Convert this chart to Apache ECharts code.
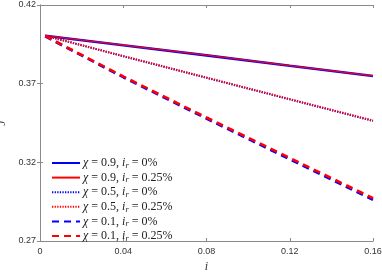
<!DOCTYPE html>
<html>
<head>
<meta charset="utf-8">
<script src="https://cdn.jsdelivr.net/npm/echarts@6/dist/echarts.min.js"></script>
<style>html,body{margin:0;padding:0;background:#fff;}#c{width:382px;height:273px;}</style>
</head>
<body>
<div id="c"></div>
<script>
const iVals = [0.0025, 0.04, 0.08, 0.12, 0.16];
const chi09_r0 = [0.4005, 0.3944, 0.3880, 0.3814, 0.3749];
const chi09_r25 = [0.4005, 0.3945, 0.3881, 0.3815, 0.3750];
const chi05_r0 = [0.4005, 0.3874, 0.3737, 0.3600, 0.3463];
const chi05_r25 = [0.4005, 0.3876, 0.3739, 0.3602, 0.3466];
const chi01_r0 = [0.4000, 0.3741, 0.3478, 0.3220, 0.2962];
const chi01_r25 = [0.4003, 0.3746, 0.3485, 0.3228, 0.2972];
const xTicks = [0, 0.04, 0.08, 0.12, 0.16];
const yTicks = [0.27, 0.32, 0.37, 0.42];
const legendChi = ['0.9', '0.9', '0.5', '0.5', '0.1', '0.1'];
const legendIr = ['0%', '0.25%', '0%', '0.25%', '0%', '0.25%'];

const BLUE = '#0000ff', RED = '#ff0000';
const styles = [
  {color: BLUE, width: 2.6, type: 'solid'},
  {color: RED, width: 1.2, type: 'solid'},
  {color: BLUE, width: 2, type: [1.3, 1.3]},
  {color: RED, width: 2, type: [1.3, 1.3]},
  {color: BLUE, width: 2.6, type: [7, 5]},
  {color: RED, width: 2.6, type: [7, 5]}
];
const allData = [chi09_r0, chi09_r25, chi05_r0, chi05_r25, chi01_r0, chi01_r25];
const names = legendChi.map((c, k) => 'χ = ' + c + ', i_r = ' + legendIr[k]);

const series = allData.map((arr, k) => ({
  name: names[k],
  type: 'line',
  xAxisIndex: 0, yAxisIndex: 0,
  symbol: 'none',
  showSymbol: false,
  animation: false,
  data: iVals.map((x, j) => [x, arr[j]]),
  lineStyle: {color: styles[k].color, width: styles[k].width, type: styles[k].type},
  itemStyle: {color: styles[k].color}
}));

const axisCol = '#8a8a8a';
const labelStyle = {color: '#333', fontSize: 9, fontFamily: 'Liberation Sans'};
const txt = '#222';
const chart = echarts.init(document.getElementById('c'), null, {renderer: 'canvas'});
chart.setOption({
  animation: false,
  grid: {left: 40, top: 5, right: 9, bottom: 32, containLabel: false, outerBoundsMode: 'none'},
  xAxis: [
    {type: 'value', min: xTicks[0], max: xTicks[xTicks.length - 1], interval: 0.04,
     axisLine: {show: true, lineStyle: {color: axisCol}},
     axisTick: {show: true, inside: true, length: 3, lineStyle: {color: axisCol}},
     axisLabel: {...labelStyle, margin: 6, formatter: v => String(+v.toFixed(2))},
     splitLine: {show: false},
     name: 'i', nameLocation: 'middle', nameGap: 16,
     nameTextStyle: {fontFamily: 'Liberation Serif', fontStyle: 'italic', fontSize: 12, color: '#333'}},
    {type: 'value', position: 'top', min: xTicks[0], max: xTicks[xTicks.length - 1], interval: 0.04,
     axisLine: {show: true, lineStyle: {color: axisCol}},
     axisTick: {show: true, inside: true, length: 3, lineStyle: {color: axisCol}},
     axisLabel: {show: false}, splitLine: {show: false}}
  ],
  yAxis: [
    {type: 'value', min: yTicks[0], max: yTicks[yTicks.length - 1], interval: 0.05,
     axisLine: {show: true, lineStyle: {color: axisCol}},
     axisTick: {show: true, inside: true, length: 3, lineStyle: {color: axisCol}},
     axisLabel: {...labelStyle, margin: 4, formatter: v => (+v).toFixed(2)},
     splitLine: {show: false},
     name: 'J', nameLocation: 'middle', nameGap: 31, nameRotate: 90,
     nameTextStyle: {fontFamily: 'Liberation Serif', fontStyle: 'italic', fontSize: 12, color: '#333'}},
    {type: 'value', position: 'right', min: yTicks[0], max: yTicks[yTicks.length - 1], interval: 0.05,
     axisLine: {show: true, lineStyle: {color: axisCol}},
     axisTick: {show: true, inside: true, length: 3, lineStyle: {color: axisCol}},
     axisLabel: {show: false}, splitLine: {show: false}}
  ],
  legend: {
    orient: 'vertical', left: 51, top: 156,
    itemWidth: 28, itemHeight: 12, itemGap: 0.6,
    padding: 0,
    data: names,
    itemStyle: {opacity: 0},
    textStyle: {fontFamily: 'Liberation Serif', fontSize: 12, lineHeight: 12, color: txt, padding: [0, 0, 0, -2],
      rich: {
        t: {fontFamily: 'Liberation Serif', fontSize: 12, lineHeight: 12, color: txt},
        i: {fontFamily: 'Liberation Serif', fontSize: 12, lineHeight: 12, fontStyle: 'italic', color: txt},
        s: {fontFamily: 'Liberation Serif', fontSize: 8.5, lineHeight: 12, fontStyle: 'italic', color: txt, padding: [5, 0, 0, 0]}
      }},
    formatter: function (n) {
      const k = names.indexOf(n);
      return '{i|χ}{t| = ' + legendChi[k] + ', }{i|i}{s|r}{t| = ' + legendIr[k] + '}';
    }
  },
  series: series
});
</script>
</body>
</html>
